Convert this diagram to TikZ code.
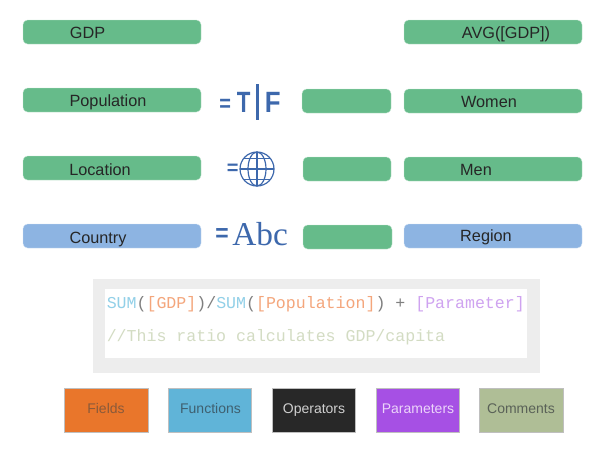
\documentclass[tikz,border=0pt]{standalone}
\usepackage{fontspec}
\setmainfont{Liberation Sans}
\newfontfamily\codefont{Liberation Mono}
\newfontfamily\serifface{Liberation Serif}
\definecolor{grn}{HTML}{66BB8A}
\definecolor{blu}{HTML}{8DB4E2}
\definecolor{ico}{HTML}{3D68AC}
\definecolor{txt}{HTML}{262626}
\definecolor{cfun}{HTML}{92D0E8}
\definecolor{cfld}{HTML}{F4A67C}
\definecolor{cop}{HTML}{7F7F7F}
\definecolor{cpar}{HTML}{CFA3F0}
\definecolor{ccom}{HTML}{D3DCC3}
\definecolor{lorange}{HTML}{E9762B}
\definecolor{lblue}{HTML}{60B4D8}
\definecolor{lblack}{HTML}{282828}
\definecolor{lpurple}{HTML}{A650E4}
\definecolor{lgreen}{HTML}{AFBE96}
\definecolor{torange}{HTML}{8A5A3A}
\definecolor{tblue}{HTML}{3F6070}
\definecolor{tblack}{HTML}{D0D0D0}
\definecolor{tpurple}{HTML}{ECD4FA}
\definecolor{tgreen}{HTML}{5A6258}
\tikzset{
  x=0.75pt,y=-0.75pt,
  pill/.style={rounded corners=3.4pt,fill=#1,draw=#1!40!white,line width=0.3pt},
  lab/.style={font=\fontsize{12.2}{14}\selectfont,text=txt,inner sep=0pt,anchor=base},
  leg/.style={draw=black!25,line width=0.6pt,fill=#1},
  legt/.style={font=\fontsize{10.5}{12}\selectfont,inner sep=0pt,anchor=base},
  code/.style={font=\codefont\fontsize{12.44}{14}\selectfont,inner sep=0pt,anchor=base west},
  icot/.style={text=ico,inner sep=0pt,anchor=base west},
}
\begin{document}
\begin{tikzpicture}
\useasboundingbox (0,0) rectangle (614,454);
% left column
\draw[pill=grn] (23,20) rectangle (201,44);
\draw[pill=grn] (23,88) rectangle (201,112);
\draw[pill=grn] (23,156) rectangle (201,180);
\draw[pill=blu] (23,224) rectangle (201,248);
\node[lab] (gdp) at (87.5,38.5) {GDP};
\node[lab] (pop) at (108,106) {Population};
\node[lab] (loc) at (100,175) {Location};
\node[lab] (cty) at (98,243) {Country};
% middle column
\draw[pill=grn] (302,89) rectangle (391,113);
\draw[pill=grn] (303,157) rectangle (391,181);
\draw[pill=grn] (303,225) rectangle (392,249);
% right column
\draw[pill=grn] (404,20) rectangle (582,44);
\draw[pill=grn] (404,89) rectangle (582,113);
\draw[pill=grn] (404,157) rectangle (582,181);
\draw[pill=blu] (404,224) rectangle (582,248);
\node[lab] (avg) at (506,38.5) {AVG([GDP])};
\node[lab] (wom) at (489,107) {Women};
\node[lab] (men) at (476,175) {Men};
\node[lab] (reg) at (486,241) {Region};
% icons
\node[icot,font=\bfseries\fontsize{22}{24}\selectfont] (eqa) at (219,111) {\scalebox{0.68}[0.8]{=}};
\node[icot,font=\bfseries\fontsize{22}{24}\selectfont] (tt) at (236.5,112) {\scalebox{0.76}[1]{T}};
\fill[ico] (256,84) rectangle (258.5,119.5);
\node[icot,font=\bfseries\fontsize{22}{24}\selectfont] (ff) at (264.5,112) {\scalebox{0.88}[1]{F}};
\node[icot,font=\bfseries\fontsize{15}{16}\selectfont] (eqb) at (226.5,174.5) {=};
\begin{scope}[draw=ico,line width=0.9pt]
\draw (257,169) circle [radius=17];
\draw (257,169) ellipse [x radius=9,y radius=17];
\draw (257,152) -- (257,186);
\draw (240,169) -- (274,169);
\draw (244,158.5) -- (270,158.5);
\draw (244,179.5) -- (270,179.5);
\end{scope}
\node[icot,font=\bfseries\fontsize{22}{24}\selectfont] (eqc) at (215,241) {\scalebox{0.78}[0.85]{=}};
\node[icot,font=\serifface\fontsize{25}{26}\selectfont] (abc) at (232,245) {Abc};
% code panel
\fill[black!7] (93,279) rectangle (540,373);
\fill[white] (105,289) rectangle (527,358);
\node[code] (c1) at (106.5,308) {\textcolor{cfun}{SUM}\textcolor{cop}{(}\textcolor{cfld}{[GDP]}\textcolor{cop}{)/}\textcolor{cfun}{SUM}\textcolor{cop}{(}\textcolor{cfld}{[Population]}\textcolor{cop}{) + }\textcolor{cpar}{[Parameter]}};
\node[code,text=ccom] (c2) at (106.5,341) {//This ratio calculates GDP/capita};
% legend
\draw[leg=lorange] (64,388) rectangle (148,432);
\draw[leg=lblue] (168,388) rectangle (251,432);
\draw[leg=lblack] (272,388) rectangle (355,432);
\draw[leg=lpurple] (376,388) rectangle (459,432);
\draw[leg=lgreen] (479,388) rectangle (563,432);
\node[legt,text=torange] (l1) at (106,413) {Fields};
\node[legt,text=tblue] (l2) at (210.5,413) {Functions};
\node[legt,text=tblack] (l3) at (314,413) {Operators};
\node[legt,text=tpurple] (l4) at (418,413) {Parameters};
\node[legt,text=tgreen] (l5) at (521,413) {Comments};
\end{tikzpicture}
\end{document}
